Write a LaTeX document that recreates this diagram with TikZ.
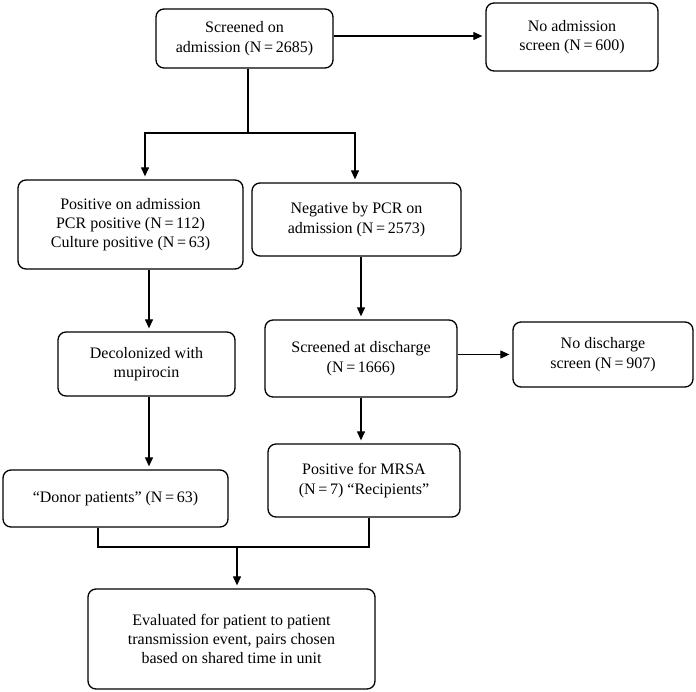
\documentclass[tikz,border=0pt]{standalone}
\usepackage{fontspec}
\setmainfont{Liberation Serif}
\usepackage{tikz}
\usetikzlibrary{arrows.meta,calc,positioning}

\newcommand{\nval}[1]{(N\,=\,#1)}

\tikzset{
  box/.style={draw,rounded corners=8pt,line width=1.3pt,align=center,
    inner sep=0pt,font=\fontsize{16}{19.3}\selectfont},
  link/.style={line width=1.2pt},
  arr/.style={link,-{Triangle[length=9pt,width=8pt]},shorten >=3pt}
}

\begin{document}
\begin{tikzpicture}[x=1pt,y=1pt,yscale=-1]
\useasboundingbox (0,0) rectangle (696,691);

% boxes
\node[box,minimum width=177,minimum height=59] (scr) at (244.5,38.5) {Screened on\\admission \nval{2685}};
\node[box,minimum width=172,minimum height=68] (noadm) at (572,37) {No admission\\screen \nval{600}};
\node[box,minimum width=225,minimum height=89] (pos) at (130.5,224.5) {Positive on admission\\PCR positive \nval{112}\\Culture positive \nval{63}};
\node[box,minimum width=209,minimum height=73] (neg) at (356.5,219.5) {Negative by PCR on\\admission \nval{2573}};
\node[box,minimum width=177,minimum height=64] (decol) at (146.5,364) {Decolonized with\\mupirocin};
\node[box,minimum width=192,minimum height=77] (disc) at (361,358.5) {Screened at discharge\\\nval{1666}};
\node[box,minimum width=180,minimum height=65] (nodisc) at (603,354.5) {No discharge\\screen \nval{907}};
\node[box,minimum width=225,minimum height=57] (donor) at (115.5,498.5) {``Donor patients'' \nval{63}};
\node[box,minimum width=192,minimum height=73] (recip) at (364,480.5) {Positive for MRSA\\\nval{7} ``Recipients''};
\node[box,minimum width=287,minimum height=100] (eval) at (231.5,639) {Evaluated for patient to patient\\transmission event, pairs chosen\\based on shared time in unit};

% split and join points
\coordinate (split) at (248,133);
\coordinate (join) at (237,547);

% connectors
\draw[arr] (scr.east |- noadm.west) ++(0,-1) -- ($(noadm.west)+(0,-1)$);
\draw[link] (split |- scr.south) -- (split);
\draw[arr] (split) -| ([xshift=14.5]pos.north);
\draw[arr] (split) -| ([xshift=-1.5]neg.north);
\draw[arr] ([xshift=18.5]pos.south) -- ([xshift=2.5]decol.north);
\draw[arr] (disc.north |- neg.south) -- (disc.north);
\draw[arr] (disc.east |- nodisc.west) -- (nodisc.west);
\draw[arr] ([xshift=2.5]decol.south) -- ([xshift=2.5]decol.south |- donor.north);
\draw[arr] (disc.south) -- (disc.south |- recip.north);
\draw[link] ([xshift=-17.5]donor.south) |- (join) -| ([xshift=5]recip.south);
\draw[arr] (join) -- (join |- eval.north);

\end{tikzpicture}
\end{document}
